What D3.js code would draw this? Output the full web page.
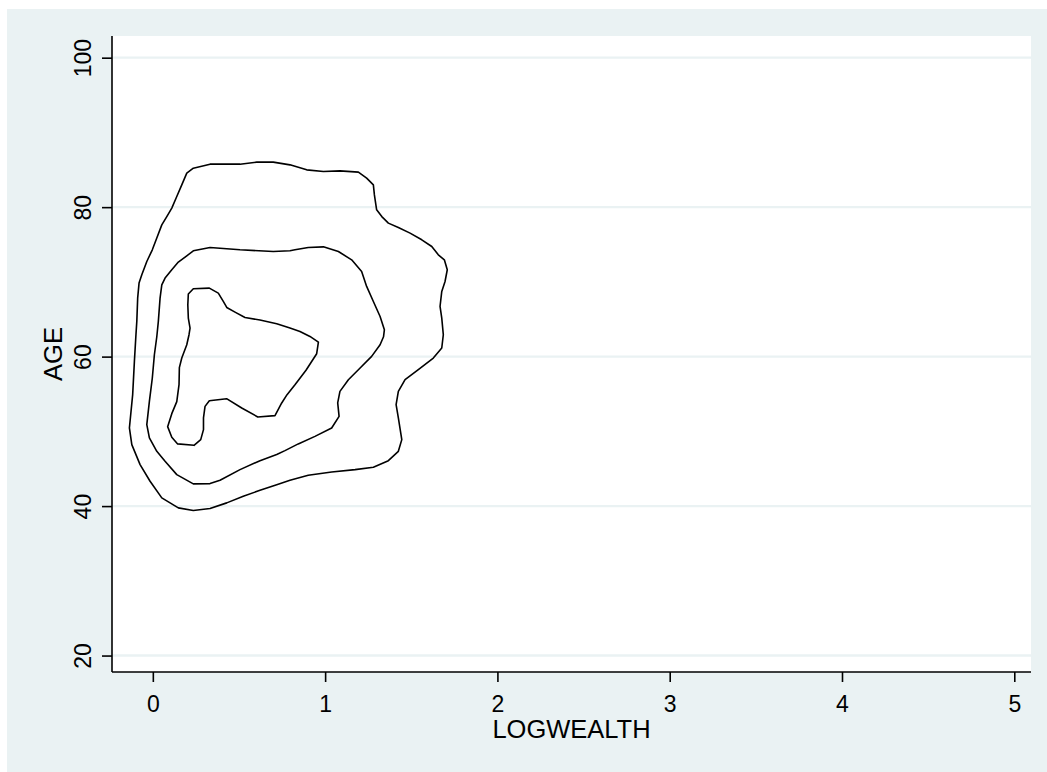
<!DOCTYPE html>
<html>
<head>
<meta charset="utf-8">
<script src="https://cdn.jsdelivr.net/npm/d3@7"></script>
<style>
  body { margin: 0; background: #ffffff; }
  svg { display: block; font-family: "Liberation Sans", Arial, sans-serif; }
</style>
</head>
<body>
<svg id="chart" width="1047" height="772"></svg>
<script>
// tick values
const xTicks = [0, 1, 2, 3, 4, 5];
const yTicks = [20, 40, 60, 80, 100];

// contour lines, as [logwealth, age]
const outerContour = [
  [0.197, 84.55], [0.235, 85.21], [0.332, 85.75], [0.506, 85.75], [0.603, 86.02],
  [0.699, 86.02], [0.796, 85.66], [0.893, 84.99], [0.990, 84.76], [1.086, 84.85],
  [1.193, 84.68], [1.241, 83.88], [1.280, 82.98], [1.286, 81.64], [1.299, 79.64],
  [1.329, 78.74], [1.367, 77.86], [1.425, 77.27], [1.493, 76.52], [1.561, 75.63],
  [1.619, 74.73], [1.657, 73.62], [1.692, 72.95], [1.709, 71.62], [1.696, 70.05],
  [1.677, 68.72], [1.667, 66.71], [1.677, 65.16], [1.686, 62.93], [1.677, 61.15],
  [1.628, 59.81], [1.541, 58.25], [1.464, 56.91], [1.425, 55.35], [1.412, 53.57],
  [1.425, 51.79], [1.445, 48.89], [1.425, 47.33], [1.367, 46.08], [1.280, 45.19],
  [1.174, 44.88], [1.038, 44.57], [0.902, 44.12], [0.796, 43.45], [0.719, 42.87],
  [0.622, 42.11], [0.525, 41.31], [0.429, 40.43], [0.332, 39.67], [0.235, 39.40],
  [0.148, 39.76], [0.052, 41.10], [-0.016, 43.32], [-0.074, 45.55], [-0.122, 48.22],
  [-0.136, 50.45], [-0.117, 54.91], [-0.107, 59.36], [-0.098, 62.93], [-0.093, 64.71],
  [-0.088, 67.83], [-0.080, 69.84], [-0.064, 70.95], [-0.035, 72.73], [-0.003, 74.29],
  [0.023, 75.86], [0.052, 77.63], [0.081, 78.74], [0.110, 79.87], [0.139, 81.42],
  [0.168, 82.98]
];

const middleContour = [
  [0.197, 73.49], [0.235, 74.16], [0.332, 74.60], [0.506, 74.29], [0.699, 74.06],
  [0.796, 74.16], [0.825, 74.29], [0.902, 74.60], [0.990, 74.69], [1.077, 74.06],
  [1.154, 72.95], [1.212, 71.39], [1.241, 69.39], [1.280, 67.38], [1.319, 65.37],
  [1.344, 63.60], [1.339, 62.66], [1.319, 61.59], [1.270, 60.03], [1.203, 58.48],
  [1.135, 56.91], [1.086, 55.35], [1.073, 53.80], [1.081, 52.01], [1.038, 50.45],
  [0.941, 49.33], [0.844, 48.32], [0.767, 47.42], [0.719, 46.89], [0.622, 46.08],
  [0.506, 44.88], [0.390, 43.45], [0.332, 43.01], [0.235, 42.97], [0.139, 44.21],
  [0.071, 45.99], [0.023, 47.33], [-0.020, 49.12], [-0.035, 50.90], [-0.020, 54.01],
  [-0.003, 57.14], [0.009, 60.25], [0.023, 62.66], [0.032, 64.71], [0.042, 67.83],
  [0.052, 69.61], [0.071, 70.51], [0.110, 71.62], [0.148, 72.65]
];

const innerContour = [
  [0.235, 69.08], [0.328, 69.17], [0.380, 68.50], [0.409, 67.38], [0.429, 66.58],
  [0.477, 65.96], [0.535, 65.24], [0.622, 64.89], [0.719, 64.40], [0.796, 63.82],
  [0.854, 63.37], [0.912, 62.70], [0.961, 61.93], [0.951, 60.39], [0.889, 58.18],
  [0.825, 56.24], [0.779, 54.91], [0.748, 53.80], [0.709, 52.10], [0.609, 51.93],
  [0.516, 53.13], [0.428, 54.37], [0.328, 54.10], [0.303, 53.34], [0.294, 51.79],
  [0.294, 50.23], [0.278, 48.89], [0.239, 48.13], [0.144, 48.32], [0.110, 49.22],
  [0.086, 50.63], [0.110, 52.37], [0.139, 53.97], [0.152, 56.24], [0.154, 58.52],
  [0.168, 59.81], [0.197, 61.59], [0.210, 62.93], [0.216, 63.82], [0.206, 65.16],
  [0.203, 66.94], [0.206, 68.37]
];

const contours = [outerContour, middleContour, innerContour];

const svg = d3.select("#chart");
const width = 1047;
const height = 772;
const margin = { top: 36, right: 16, bottom: 100, left: 112 };
const innerWidth = width - margin.left - margin.right;
const innerHeight = height - margin.top - margin.bottom;

const bg = "#eaf2f3";

// outer background
svg.append("rect")
  .attr("x", 7).attr("y", 9)
  .attr("width", width - 7).attr("height", height - 9)
  .attr("fill", bg);

const g = svg.append("g").attr("transform", `translate(${margin.left},${margin.top})`);

g.append("rect")
  .attr("width", innerWidth).attr("height", innerHeight)
  .attr("fill", "#ffffff");

const xScale = d3.scaleLinear().domain([-0.237, 5.097]).range([0, innerWidth]);
const yScale = d3.scaleLinear().domain([17.8, 102.9]).range([innerHeight, 0]);

// horizontal grid
g.selectAll(".grid")
  .data(yTicks)
  .enter()
  .append("line")
  .attr("x1", 0).attr("x2", innerWidth)
  .attr("y1", (d) => yScale(d)).attr("y2", (d) => yScale(d))
  .attr("stroke", bg)
  .attr("stroke-width", 2.4);

const line = d3.line()
  .x((d) => xScale(d[0]))
  .y((d) => yScale(d[1]))
  .curve(d3.curveLinearClosed);

g.selectAll(".contour")
  .data(contours)
  .enter()
  .append("path")
  .attr("d", line)
  .attr("fill", "none")
  .attr("stroke", "#000")
  .attr("stroke-width", 1.6)
  .attr("stroke-linejoin", "round");

// axes
const xAxis = d3.axisBottom(xScale).tickValues(xTicks).tickSize(10).tickFormat(d3.format("d"));
const yAxis = d3.axisLeft(yScale).tickValues(yTicks).tickSize(10).tickFormat(d3.format("d"));

const gx = g.append("g").attr("transform", `translate(0,${innerHeight})`).call(xAxis);
const gy = g.append("g").call(yAxis);

[gx, gy].forEach((a) => {
  a.select(".domain").attr("stroke", "#000").attr("stroke-width", 1.6)
    .attr("d", a === gx ? `M0,0H${innerWidth}` : `M0,0V${innerHeight}`);
  a.selectAll(".tick line").attr("stroke", "#000").attr("stroke-width", 1.6);
  a.selectAll(".tick text").attr("fill", "#000").style("font-size", "23px")
    .style("font-family", "'Liberation Sans', Arial, sans-serif");
});

gx.selectAll(".tick text").attr("y", 39.7).attr("dy", 0);

gy.selectAll(".tick text")
  .attr("transform", "rotate(-90)")
  .attr("x", 0)
  .attr("y", -21.5)
  .attr("dy", 0)
  .attr("text-anchor", "middle");

// axis titles
svg.append("text")
  .attr("x", margin.left + innerWidth / 2)
  .attr("y", 738.3)
  .attr("text-anchor", "middle")
  .style("font-size", "25.5px")
  .attr("fill", "#000")
  .text("LOGWEALTH");

svg.append("text")
  .attr("transform", `translate(62.3,${margin.top + innerHeight / 2}) rotate(-90)`)
  .attr("text-anchor", "middle")
  .style("font-size", "25.5px")
  .attr("fill", "#000")
  .text("AGE");
</script>
</body>
</html>
